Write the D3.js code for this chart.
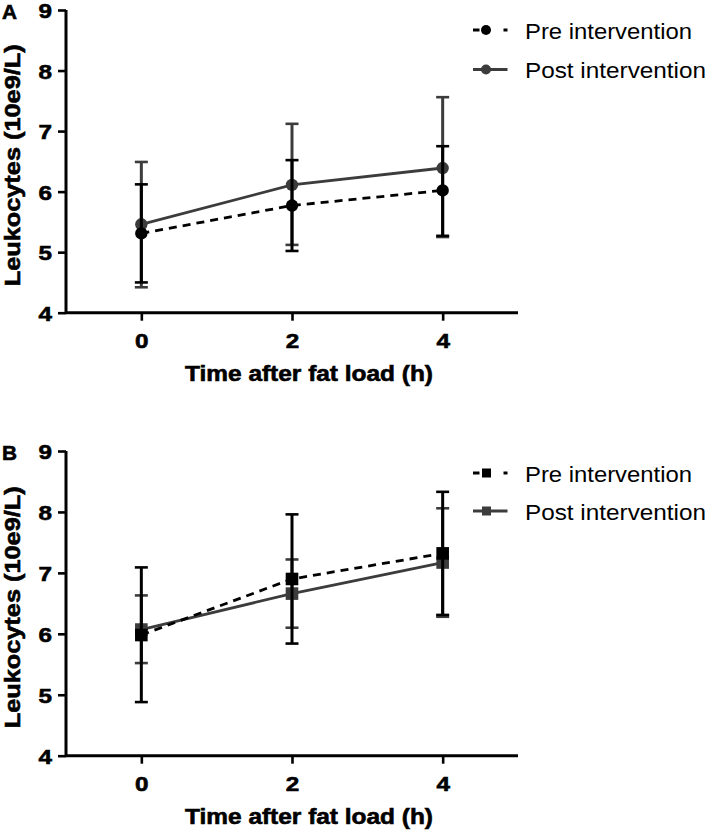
<!DOCTYPE html>
<html>
<head>
<meta charset="utf-8">
<script src="https://cdn.jsdelivr.net/npm/d3@7"></script>
<style>
html,body{margin:0;padding:0;background:#fff;}
svg{display:block;}
text{font-family:"Liberation Sans",Arial,Helvetica,sans-serif;}
.heavy{stroke:#000;stroke-width:0.6px;}
</style>
</head>
<body>
<svg id="chart" width="709" height="832"></svg>
<script>
// ---- data ----
const times = [0, 2, 4];
const xTickValues = [0, 2, 4];
const yTickValues = [4, 5, 6, 7, 8, 9];
const seriesNames = ["Pre intervention", "Post intervention"];
const xTitle = "Time after fat load (h)";
const yTitle = "Leukocytes (10e9/L)";

// Panel A (circles)
const preA_mean = [5.31, 5.77, 6.02];
const preA_low  = [4.50, 5.02, 5.27];
const preA_high = [6.12, 6.52, 6.75];
const postA_mean = [5.46, 6.11, 6.39];
const postA_low  = [4.42, 5.12, 5.25];
const postA_high = [6.49, 7.12, 7.56];

// Panel B (squares)
const preB_mean = [5.98, 6.90, 7.32];
const preB_low  = [4.88, 5.84, 6.31];
const preB_high = [7.09, 7.96, 8.33];
const postB_mean = [6.07, 6.66, 7.17];
const postB_low  = [5.52, 6.10, 6.28];
const postB_high = [6.63, 7.22, 8.06];

const PRE_COL = "#000000";
const POST_COL = "#3c3c3c";

const svg = d3.select("#chart");

function rows(mean, low, high) {
  return times.map((t, i) => ({t, m: mean[i], lo: low[i], hi: high[i]}));
}

const panels = [
  {label: "A", top: 10, bottom: 312.7, marker: "circle",
   pre: rows(preA_mean, preA_low, preA_high), post: rows(postA_mean, postA_low, postA_high),
   legY: [30, 69.5]},
  {label: "B", top: 451, bottom: 755.7, marker: "square",
   pre: rows(preB_mean, preB_low, preB_high), post: rows(postB_mean, postB_low, postB_high),
   legY: [473, 511]}
];

const left = 66, right = 518;

panels.forEach(p => {
  const g = svg.append("g");
  const x = d3.scaleLinear().domain([-1, 5]).range([left, right]);
  const y = d3.scaleLinear().domain([4, 9]).range([p.bottom, p.top]);

  // axes
  const yAx = g.append("g").attr("transform", `translate(${left},0)`)
    .call(d3.axisLeft(y).tickValues(yTickValues).tickSize(8).tickPadding(6).tickFormat(d3.format("d")));
  const xAx = g.append("g").attr("transform", `translate(0,${p.bottom})`)
    .call(d3.axisBottom(x).tickValues(xTickValues).tickSize(8).tickPadding(7).tickFormat(d3.format("d")));
  [yAx, xAx].forEach(a => {
    a.attr("font-size", null).attr("font-family", null);
    a.select(".domain").attr("stroke", "#000").attr("stroke-width", 3).attr("d",
      a === yAx ? `M0,${p.top}V${p.bottom}` : `M${left},0H${right}`);
    a.selectAll(".tick line").attr("stroke", "#000").attr("stroke-width", 2.6);
    a.selectAll(".tick text").attr("class", "heavy").attr("fill", "#000").style("font-size", "21px").style("font-weight", "bold")
      .attr("textLength", 13.5).attr("lengthAdjust", "spacingAndGlyphs");
  });
  yAx.selectAll(".tick text").attr("x", -14).attr("dy", "0.36em");
  xAx.selectAll(".tick text").attr("y", 20).attr("dy", "0.71em");

  // titles
  g.append("text").attr("class", "heavy").attr("x", (left + right) / 2 + 17).attr("y", p.bottom + 68.5)
    .attr("text-anchor", "middle").attr("font-size", 21.5).attr("font-weight", "bold")
    .attr("textLength", 248).attr("lengthAdjust", "spacingAndGlyphs").text(xTitle);
  const yc = (p.top + p.bottom) / 2 + 4;
  g.append("text").attr("class", "heavy").attr("transform", `translate(19.5,${yc}) rotate(-90)`)
    .attr("text-anchor", "middle").attr("font-size", 21.5).attr("font-weight", "bold")
    .attr("textLength", 242).attr("lengthAdjust", "spacingAndGlyphs").text(yTitle);
  g.append("text").attr("class", "heavy").attr("x", 2).attr("y", p.top + 9).attr("font-size", 21).attr("font-weight", "bold")
    .attr("textLength", 15).attr("lengthAdjust", "spacingAndGlyphs").text(p.label);

  const line = d3.line().x(d => x(d.t)).y(d => y(d.m));

  function drawSeries(data, col, dashed) {
    const s = g.append("g");
    s.append("path").datum(data).attr("d", line).attr("fill", "none").attr("stroke", col)
      .attr("stroke-width", 2.8).attr("stroke-dasharray", dashed ? "8,6" : null);
    const eb = s.selectAll("g.eb").data(data).join("g");
    eb.append("line").attr("x1", d => x(d.t)).attr("x2", d => x(d.t))
      .attr("y1", d => y(d.lo)).attr("y2", d => y(d.hi)).attr("stroke", col).attr("stroke-width", 3);
    ["lo", "hi"].forEach(k => {
      eb.append("line").attr("x1", d => x(d.t) - 6.5).attr("x2", d => x(d.t) + 6.5)
        .attr("y1", d => y(d[k])).attr("y2", d => y(d[k])).attr("stroke", col).attr("stroke-width", 2.6);
    });
    if (p.marker === "circle") {
      s.selectAll("circle").data(data).join("circle").attr("cx", d => x(d.t)).attr("cy", d => y(d.m))
        .attr("r", 6.2).attr("fill", col);
    } else {
      s.selectAll("rect.m").data(data).join("rect").attr("x", d => x(d.t) - 6.3).attr("y", d => y(d.m) - 6.3)
        .attr("width", 12.6).attr("height", 12.6).attr("fill", col);
    }
  }
  drawSeries(p.post, POST_COL, false);
  drawSeries(p.pre, PRE_COL, true);

  // legend
  const lg = g.append("g");
  [[PRE_COL, true], [POST_COL, false]].forEach(([col, dashed], i) => {
    const ly = p.legY[i];
    lg.append("line").attr("x1", 473).attr("x2", 507.5).attr("y1", ly).attr("y2", ly)
      .attr("stroke", col).attr("stroke-width", 3).attr("stroke-dasharray", dashed ? "6.5,24,4" : null);
    if (p.marker === "circle") {
      lg.append("circle").attr("cx", 486).attr("cy", ly).attr("r", 5).attr("fill", col);
    } else {
      lg.append("rect").attr("x", 482).attr("y", ly - 4.5).attr("width", 9).attr("height", 9).attr("fill", col);
    }
    lg.append("text").attr("x", 525).attr("y", ly + 8.5).attr("font-size", 22).attr("fill", "#000")
      .attr("textLength", i === 0 ? 167 : 181).attr("lengthAdjust", "spacingAndGlyphs").text(seriesNames[i]);
  });
});
</script>
</body>
</html>
